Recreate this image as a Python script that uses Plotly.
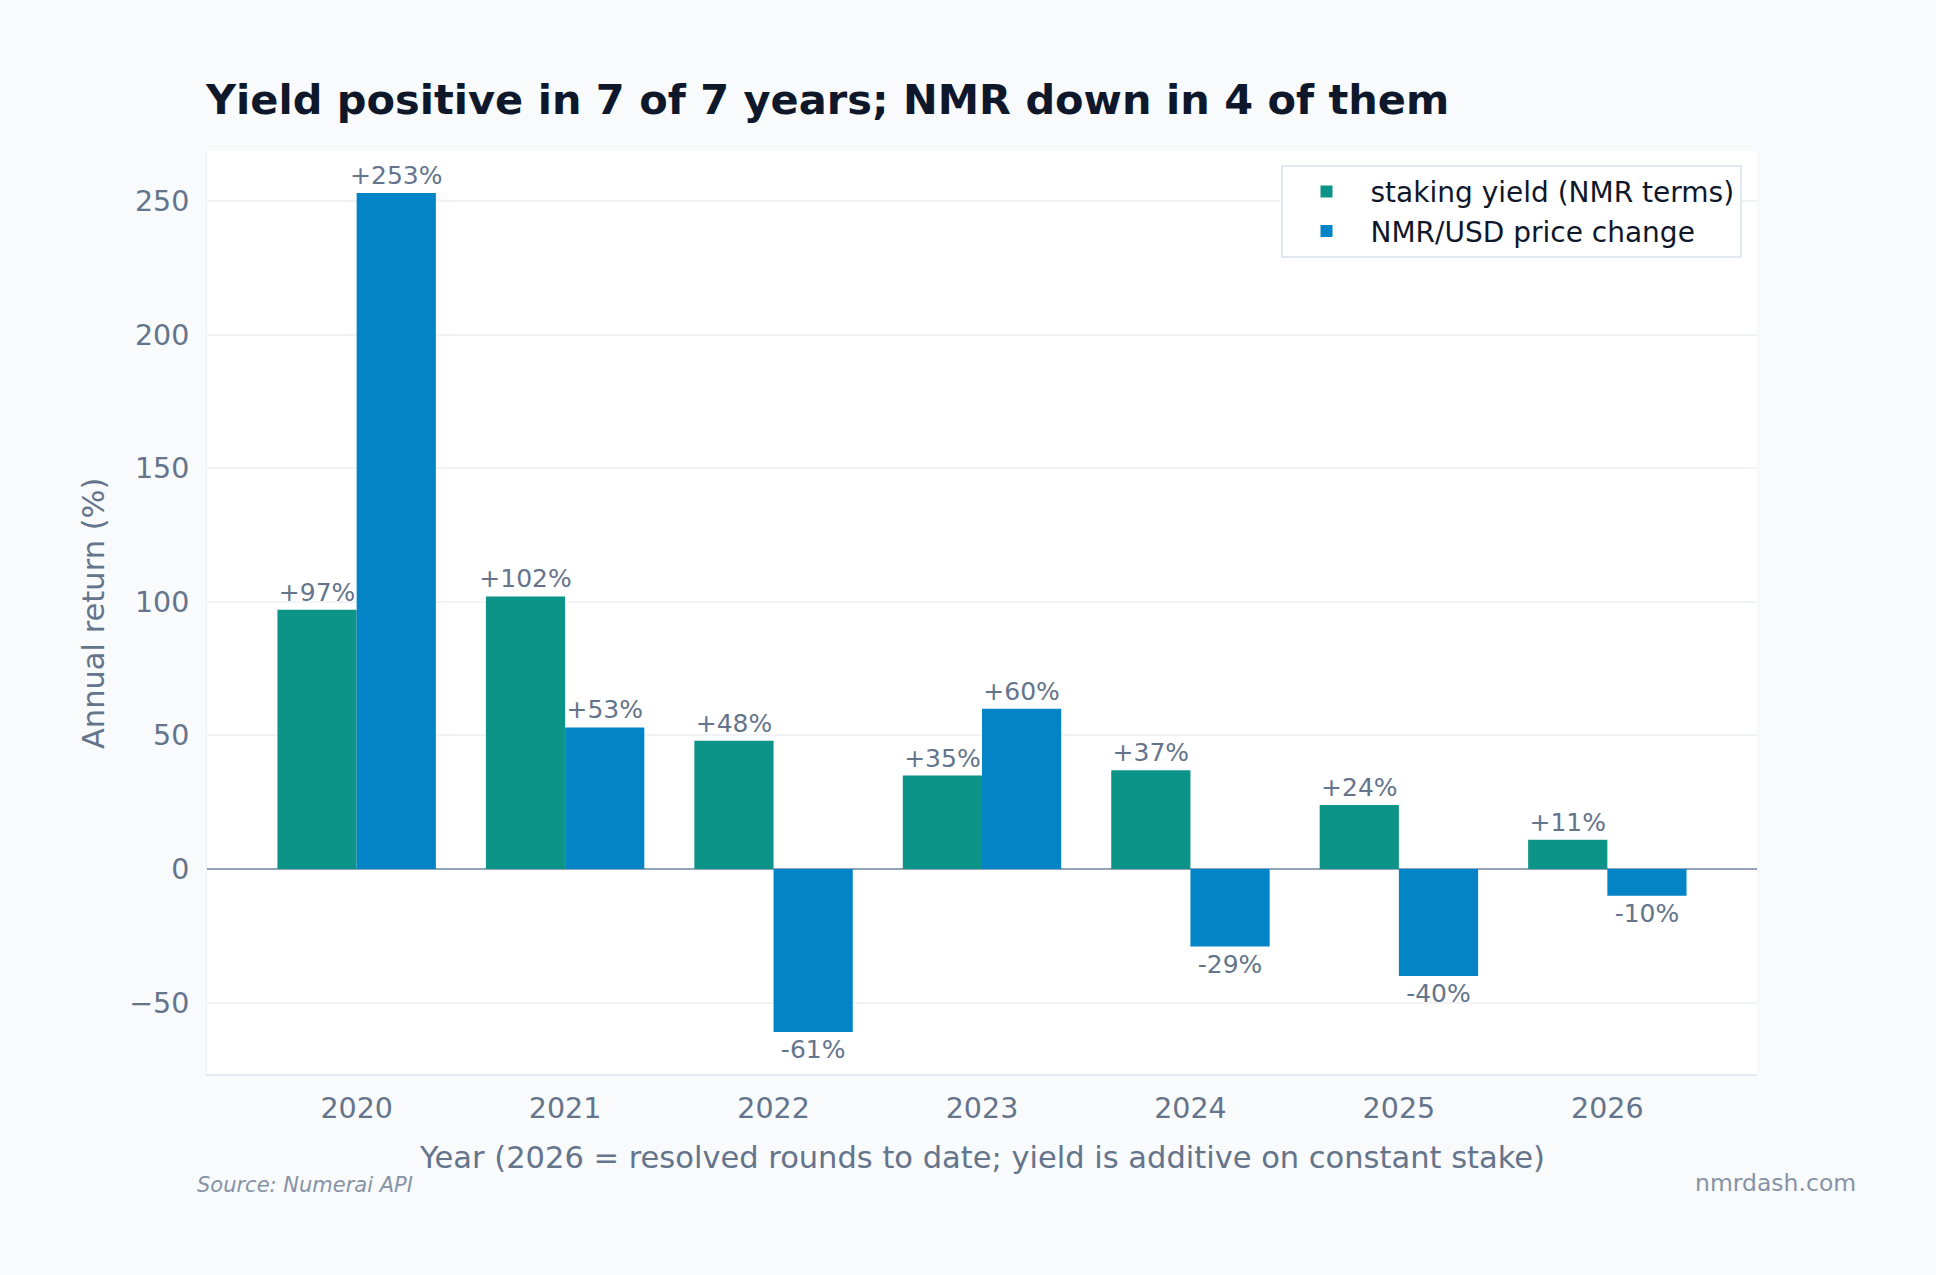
import plotly.graph_objects as go

years = ["2020", "2021", "2022", "2023", "2024", "2025", "2026"]
staking_yield = [97, 102, 48, 35, 37, 24, 11]
price_change = [253, 53, -61, 60, -29, -40, -10]
y_ticks = [-50, 0, 50, 100, 150, 200, 250]

FONT = "DejaVu Sans"
GREEN = "#0d9488"
BLUE = "#0284c7"
MUTED = "#64748b"

def labels(vals):
    return [f"{v:+.0f}%" for v in vals]

fig = go.Figure()
fig.add_trace(go.Bar(
    x=years, y=staking_yield, name="staking yield (NMR terms)",
    marker=dict(color=GREEN, line=dict(width=0)),
    text=labels(staking_yield), textposition="outside", constraintext="none",
    cliponaxis=False, textfont=dict(family=FONT, size=25, color=MUTED),
    legendgroup="a",
))
fig.add_trace(go.Bar(
    x=years, y=price_change, name="NMR/USD price change",
    marker=dict(color=BLUE, line=dict(width=0)),
    text=labels(price_change), textposition="outside", constraintext="none",
    cliponaxis=False, textfont=dict(family=FONT, size=25, color=MUTED),
    legendgroup="b",
))

W, H = 1936, 1275
L, R, T, B = 207, 1757, 151, 1074

fig.update_layout(
    width=W, height=H,
    margin=dict(l=L, r=W - R, t=T, b=H - B, autoexpand=False),
    paper_bgcolor="#f8fafc",
    plot_bgcolor="#ffffff",
    barmode="group", bargap=0.24, bargroupgap=0,
    font=dict(family=FONT, color=MUTED),
    title=dict(
        text="<b>Yield positive in 7 of 7 years; NMR down in 4 of them</b>",
        font=dict(family=FONT, size=41.5, color="#0f172a"),
        x=206 / W, xanchor="left", xref="container",
        y=1 - 99 / H, yanchor="middle", yref="container",
    ),
    legend=dict(
        x=0.990, xanchor="right", y=0.985, yanchor="top",
        bgcolor="#ffffff", bordercolor="#e2e8f0", borderwidth=2,
        font=dict(family=FONT, size=28, color="#0f172a"),
        tracegroupgap=11, traceorder="normal", itemwidth=78,
    ),
    showlegend=True,
)

fig.update_xaxes(
    type="category", range=[-0.718, 6.718],
    showgrid=False, showline=True, linecolor="#e2e8f0", linewidth=2,
    ticks="", tickfont=dict(family=FONT, size=28.5, color=MUTED),
    ticklabelstandoff=8,
)
fig.update_yaxes(
    range=[-76.7, 268.7], tickvals=y_ticks,
    showgrid=True, gridcolor="#f1f3f6", gridwidth=1.5,
    zeroline=True, zerolinecolor="#94a3b8", zerolinewidth=1.5,
    showline=True, linecolor="#eef1f4", linewidth=1,
    ticks="", tickfont=dict(family=FONT, size=28.5, color=MUTED),
    ticklabelstandoff=11,
)

fig.add_annotation(
    text="Year (2026 = resolved rounds to date; yield is additive on constant stake)",
    xref="paper", yref="paper", x=0.5, y=(H - 1157 - (H - B)) / (B - T),
    xanchor="center", yanchor="middle", showarrow=False,
    font=dict(family=FONT, size=30.5, color=MUTED),
)
fig.add_annotation(
    text="Annual return (%)", textangle=-90,
    xref="paper", yref="paper", x=(93 - L) / (R - L), y=(B - 614) / (B - T),
    xanchor="center", yanchor="middle", showarrow=False,
    font=dict(family=FONT, size=30.5, color=MUTED),
)
fig.add_annotation(
    text="<i>Source: Numerai API</i>",
    xref="paper", yref="paper", x=(195 - L) / (R - L), y=(B - 1185) / (B - T),
    xanchor="left", yanchor="middle", showarrow=False,
    font=dict(family=FONT, size=21, color="#8793a6"),
)
fig.add_annotation(
    text="nmrdash.com",
    xref="paper", yref="paper", x=(1858 - L) / (R - L), y=(B - 1183) / (B - T),
    xanchor="right", yanchor="middle", showarrow=False,
    font=dict(family=FONT, size=23.5, color="#8793a6"),
)

fig.write_html("out.html")
